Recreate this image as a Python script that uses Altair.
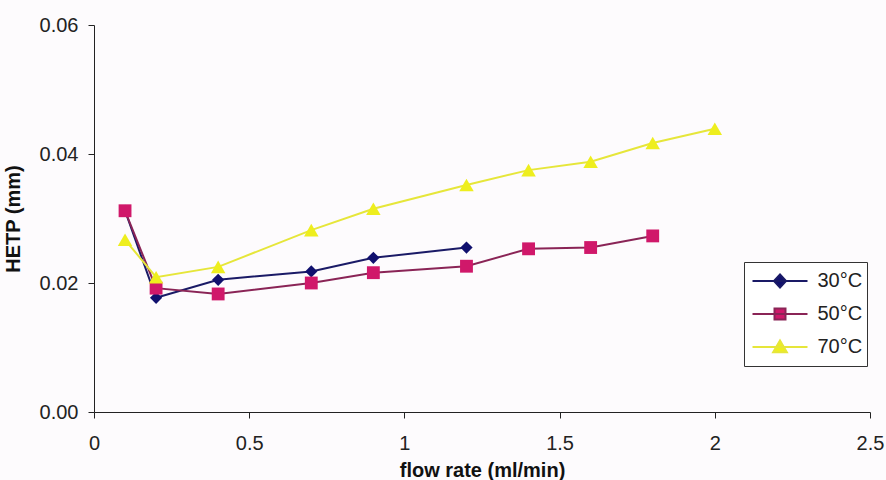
import altair as alt
import pandas as pd

# Column temperatures (one series each)
series_names = ["30°C", "50°C", "70°C"]

# Flow rate (ml/min) and plate height HETP (mm) per temperature
flow_30 = [0.1, 0.2, 0.4, 0.7, 0.9, 1.2]
hetp_30 = [0.0312, 0.0177, 0.0205, 0.0218, 0.0239, 0.0255]

flow_50 = [0.1, 0.2, 0.4, 0.7, 0.9, 1.2, 1.4, 1.6, 1.8]
hetp_50 = [0.0312, 0.0192, 0.0183, 0.0200, 0.0216, 0.0226, 0.0253, 0.0255, 0.0273]

flow_70 = [0.1, 0.2, 0.4, 0.7, 0.9, 1.2, 1.4, 1.6, 1.8, 2.0]
hetp_70 = [0.0267, 0.0209, 0.0225, 0.0282, 0.0315, 0.0352, 0.0375, 0.0388, 0.0417, 0.0439]

x_ticks = [0, 0.5, 1, 1.5, 2, 2.5]
y_ticks = [0, 0.02, 0.04, 0.06]

line_colors = ["#1a1a66", "#8a2456", "#e6e63a"]
marker_colors = ["#10106e", "#d0186a", "#eeee1e"]
marker_shapes = ["diamond", "square", "triangle-up"]
marker_sizes = [150, 165, 210]

# Legend symbols: a short line segment with the series marker on it
legend_paths = [
    "M-1,0H1M0,-0.24L0.22,0L0,0.24L-0.22,0Z",
    "M-1,0H1M-0.2,-0.2H0.2V0.2H-0.2Z",
    "M-1,0H1M0,-0.24L0.25,0.19L-0.25,0.19Z",
]

FONT = "Liberation Sans"

rows = []
for name, xs, ys in zip(series_names, [flow_30, flow_50, flow_70], [hetp_30, hetp_50, hetp_70]):
    rows += [{"series": name, "flow": x, "hetp": y} for x, y in zip(xs, ys)]
df = pd.DataFrame(rows)

x_enc = alt.X(
    "flow:Q",
    scale=alt.Scale(domain=[0, 2.5], nice=False, zero=True),
    axis=alt.Axis(values=x_ticks, format="~g", title="flow rate (ml/min)",
                  labelPadding=15, titlePadding=7),
)
y_enc = alt.Y(
    "hetp:Q",
    scale=alt.Scale(domain=[0, 0.06], nice=False),
    axis=alt.Axis(values=y_ticks, format=".2f", title="HETP (mm)",
                  labelPadding=10, titlePadding=16),
)

base = alt.Chart(df).encode(x=x_enc, y=y_enc)

layers = []
for name, lc, mc, shp, sz in zip(series_names, line_colors, marker_colors, marker_shapes, marker_sizes):
    sub = base.transform_filter(alt.datum.series == name)
    layers.append(sub.mark_line(color=lc, strokeWidth=2))
    layers.append(sub.mark_point(shape=shp, filled=True, color=mc, size=sz, opacity=1))

legend_def = alt.Legend(
    title=None,
    orient="none",
    legendX=650,
    legendY=237,
    padding=4,
    strokeColor="#333333",
    fillColor="#ffffff",
    symbolSize=3025,
    symbolStrokeWidth=2,
    symbolOpacity=1,
    symbolOffset=3.5,
    labelOffset=9,
    clipHeight=30,
    rowPadding=3,
    labelFont=FONT,
    labelFontSize=20,
    labelColor="#222222",
)

legend_layer = base.transform_filter("false").mark_point(filled=True, opacity=1).encode(
    fill=alt.Fill("series:N", scale=alt.Scale(domain=series_names, range=marker_colors), legend=legend_def),
    stroke=alt.Stroke("series:N", scale=alt.Scale(domain=series_names, range=line_colors), legend=legend_def),
    shape=alt.Shape("series:N", scale=alt.Scale(domain=series_names, range=legend_paths), legend=legend_def),
)

chart = (
    alt.layer(*layers, legend_layer)
    .properties(
        width=776,
        height=387,
        autosize=alt.AutoSizeParams(type="none"),
        padding={"left": 94, "top": 25, "right": 16, "bottom": 68},
        background="#fdfbfd",
    )
    .configure_view(stroke=None)
    .configure_axis(
        grid=False,
        labelFlush=False,
        labelOverlap=False,
        domainColor="#222222",
        tickColor="#222222",
        tickSize=6,
        labelFont=FONT,
        labelFontSize=20,
        labelColor="#222222",
        titleFont=FONT,
        titleFontSize=20,
        titleFontWeight="bold",
        titleColor="#111111",
    )
)

chart.save("out.html", embed_options={"renderer": "svg", "actions": False})
